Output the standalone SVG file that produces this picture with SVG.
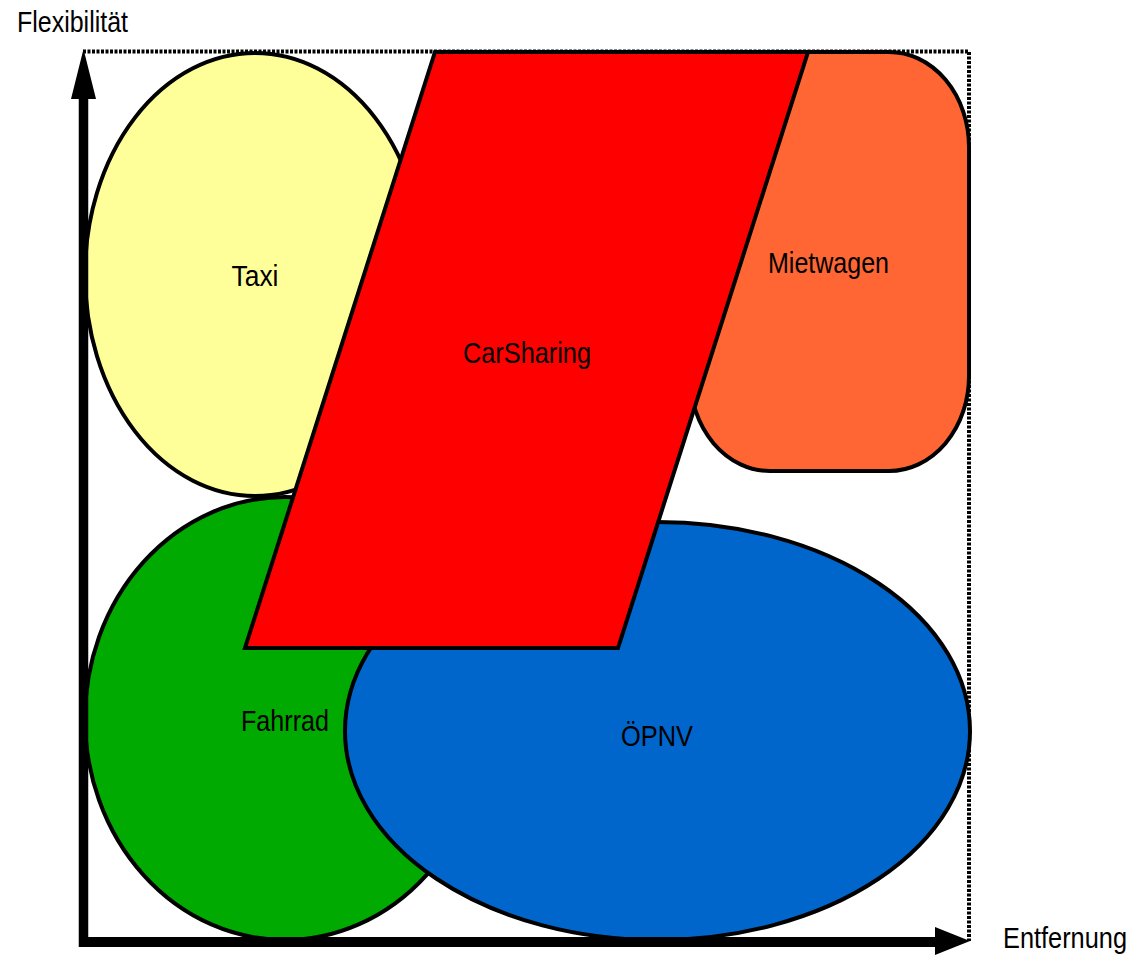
<svg xmlns="http://www.w3.org/2000/svg" width="1145" height="964" viewBox="0 0 1145 964">
  <style>
    .shape { stroke: #000; stroke-width: 4; }
    .lbl { font-family: "Liberation Sans Narrow", "Liberation Sans", Arial, sans-serif; font-size: 30px; fill: #000; text-anchor: middle; }
    .axl { font-family: "Liberation Sans Narrow", "Liberation Sans", Arial, sans-serif; font-size: 30px; fill: #000; }
  </style>
  <rect width="1145" height="964" fill="#fff"/>
  <g id="frame">
    <path d="M83,51.5 H969 V941" fill="none" stroke="#000" stroke-width="4" stroke-dasharray="3 1.5"/>
  </g>
  <g id="taxi">
    <ellipse class="shape" cx="255" cy="274.5" rx="170" ry="221.5" fill="#FFFF99"/>
    <text class="lbl" x="255" y="286" textLength="47" lengthAdjust="spacingAndGlyphs">Taxi</text>
  </g>
  <g id="mietwagen">
    <rect class="shape" x="690" y="52" width="279" height="419" rx="80" ry="95" fill="#FF6633"/>
    <text class="lbl" x="828.5" y="273" textLength="121" lengthAdjust="spacingAndGlyphs">Mietwagen</text>
  </g>
  <g id="fahrrad">
    <ellipse class="shape" cx="285" cy="718.5" rx="200" ry="221.5" fill="#00AA00"/>
    <text class="lbl" x="285" y="731" textLength="88" lengthAdjust="spacingAndGlyphs">Fahrrad</text>
  </g>
  <g id="opnv">
    <ellipse class="shape" cx="657.5" cy="731" rx="312.5" ry="209" fill="#0066CC"/>
    <text class="lbl" x="657" y="746" textLength="72" lengthAdjust="spacingAndGlyphs">ÖPNV</text>
  </g>
  <g id="carsharing">
    <polygon class="shape" points="435,52 808,52 618,648 245,648" fill="#FF0000" stroke-linejoin="miter"/>
    <text class="lbl" x="527" y="363" textLength="128" lengthAdjust="spacingAndGlyphs">CarSharing</text>
  </g>
  <g id="connectors">
    <g id="axis-y">
      <line x1="83.5" y1="947" x2="83.5" y2="95" stroke="#000" stroke-width="9.5"/>
      <polygon points="83.5,49 96,99 71,99" fill="#000"/>
    </g>
    <g id="axis-x">
      <line x1="79" y1="942" x2="938" y2="942" stroke="#000" stroke-width="10"/>
      <polygon points="970,941 935,927 935,955" fill="#000"/>
    </g>
  </g>
  <text class="axl" x="17" y="32" textLength="111" lengthAdjust="spacingAndGlyphs">Flexibilität</text>
  <text class="axl" transform="translate(1003,948) scale(0.845,1)" x="0" y="0">Entfernung</text>
</svg>
